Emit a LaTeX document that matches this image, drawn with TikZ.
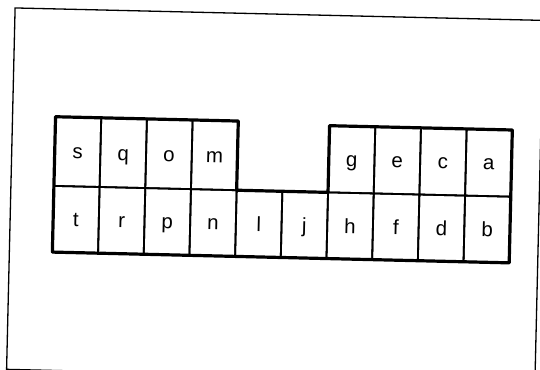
\documentclass[tikz,border=0pt]{standalone}
\usepackage{fontspec}
\setmainfont{Liberation Sans}
\begin{document}
\begin{tikzpicture}[x=1pt,y=1pt,
  cell/.style={draw, line width=1.8pt, inner sep=0pt, outer sep=0pt,
    minimum width=45.7pt, text height=14.5pt, text depth=0pt,
    font=\fontsize{20.5}{20.5}\selectfont},
  toprowL/.style={cell, minimum height=69.2pt},
  toprowR/.style={cell, minimum height=66.7pt},
  botrow/.style={cell, minimum height=66.2pt},
  outline/.style={line width=3.2pt, line join=round},
  frameline/.style={line width=1.3pt}]
\useasboundingbox (0,0) rectangle (540,369);
\clip (0,0) rectangle (540,369);
\begin{scope}[rotate around={-1.35:(270,184.5)}, transform shape]
  \draw[frameline] (11,-6.5) rectangle (539.5,355);
  % top row, left block
  \node[toprowL] (s) at (76.85,212.6) {s};
  \node[toprowL] (q) at (122.55,212.6) {q};
  \node[toprowL] (o) at (168.25,212.6) {o};
  \node[toprowL] (m) at (213.95,212.6) {m};
  % top row, right block
  \node[toprowR] (g) at (351.05,211.35) {g};
  \node[toprowR] (e) at (396.75,211.35) {e};
  \node[toprowR] (c) at (442.45,211.35) {c};
  \node[toprowR] (a) at (488.15,211.35) {a};
  % bottom row
  \node[botrow] (t) at (76.85,144.9) {t};
  \node[botrow] (r) at (122.55,144.9) {r};
  \node[botrow] (p) at (168.25,144.9) {p};
  \node[botrow] (n) at (213.95,144.9) {n};
  \node[botrow] (l) at (259.65,144.9) {l};
  \node[botrow] (j) at (305.35,144.9) {j};
  \node[botrow] (h) at (351.05,144.9) {h};
  \node[botrow] (f) at (396.75,144.9) {f};
  \node[botrow] (d) at (442.45,144.9) {d};
  \node[botrow] (b) at (488.15,144.9) {b};
  % outer outline
  \draw[outline] (s.north west) -- (m.north east) -- (m.south east)
    -- (g.south west) -- (g.north west) -- (a.north east)
    -- (b.south east) -- (t.south west) -- cycle;
\end{scope}
\end{tikzpicture}
\end{document}
